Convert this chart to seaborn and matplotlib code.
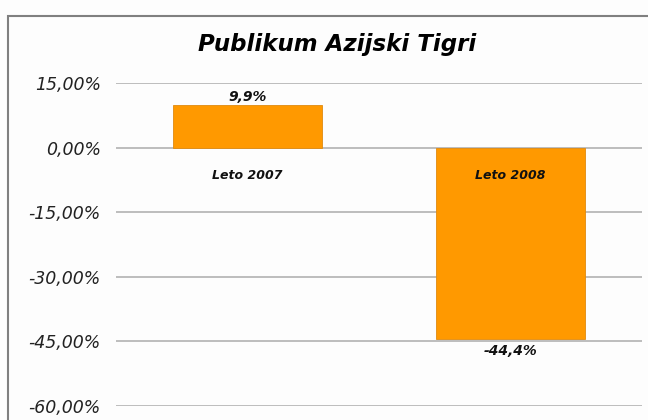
import matplotlib
matplotlib.use("Agg")
import matplotlib.pyplot as plt
import seaborn as sns
import pandas as pd
from matplotlib.patches import Rectangle

# podatki
kategorije = ['Leto 2007', 'Leto 2008']
vrednosti = [9.9, -44.4]
oznake = ['9,9%', '-44,4%']
yticks = [15, 0, -15, -30, -45, -60]
ytick_labels = ['15,00%', '0,00%', '-15,00%', '-30,00%', '-45,00%', '-60,00%']

sns.set_theme(style='white')
plt.rcParams['font.family'] = ['DejaVu Sans']

df = pd.DataFrame({'kat': kategorije, 'val': vrednosti})

fig = plt.figure(figsize=(6.48, 4.2), dpi=100)
fig.patch.set_facecolor('#fdfdfd')
ax = fig.add_axes([116 / 648, 1 - 406 / 420, (642 - 116) / 648, (406 - 83) / 420])
ax.set_facecolor('#fdfdfd')

sns.barplot(data=df, x='kat', y='val', color='#ff9900', width=0.57,
            edgecolor='#e08a10', linewidth=0.6, saturation=1, ax=ax, zorder=3)

ax.set_ylim(-60, 15)
ax.set_yticks(yticks)
ax.set_yticklabels(ytick_labels, fontsize=12.5, style='italic', color='#222222')
ax.tick_params(axis='y', length=0, pad=11)
ax.set_xticks([])
ax.set_xlabel('')
ax.set_ylabel('')
for s in ax.spines.values():
    s.set_visible(False)
for t in yticks:
    ax.axhline(t, color='#ababab', linewidth=1.1, zorder=1)

# oznake kategorij pod ničlo
for i, k in enumerate(kategorije):
    ax.annotate(k, (i, 0), xytext=(0, -20), textcoords='offset points',
                ha='center', va='center', fontsize=9, fontweight='bold',
                style='italic', color='#111111', zorder=5)

# vrednosti
for i, (v, lab) in enumerate(zip(vrednosti, oznake)):
    off = 6 if v > 0 else -9
    ax.annotate(lab, (i, v), xytext=(0, off), textcoords='offset points',
                ha='center', va='center', fontsize=10, style='italic',
                fontweight='semibold', color='#111111', zorder=5)

fig.text(0.52, 1 - 45 / 420, 'Publikum Azijski Tigri', ha='center', va='center',
         fontsize=16.5, fontweight='bold', style='italic', color='#000000')

fig.patches.append(Rectangle((8 / 648, -0.1), 1.2, (420 - 16) / 420 + 0.1,
                             transform=fig.transFigure, fill=False,
                             edgecolor='#808080', linewidth=1.5))

fig.savefig('out.png', dpi=100, facecolor=fig.get_facecolor())
